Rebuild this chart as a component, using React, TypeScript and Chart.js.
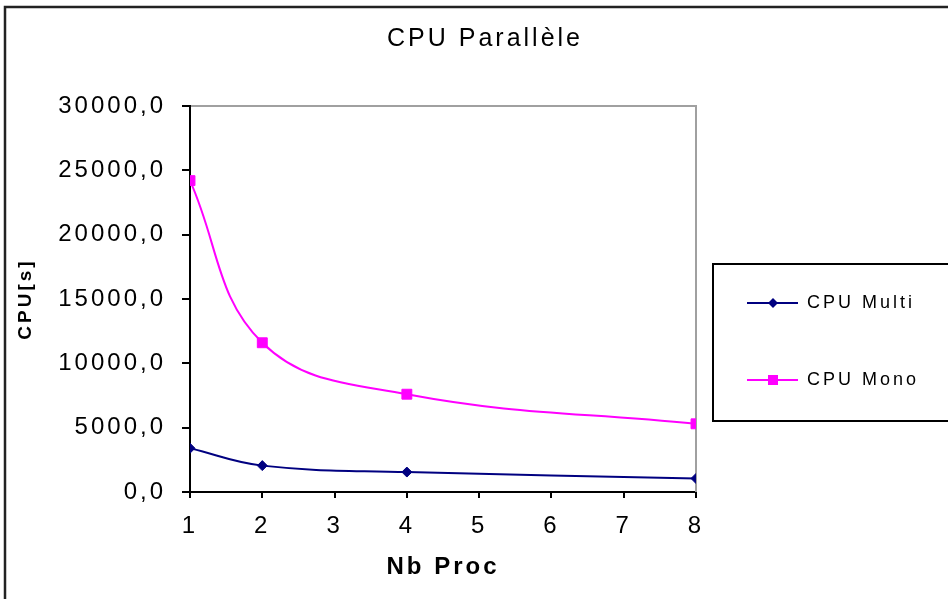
import React, { useEffect, useRef } from 'react';
import { Chart, registerables } from 'chart.js';

Chart.register(...registerables);

// ---- data ----
const nbProc = [1, 2, 4, 8];
const cpuMulti = [3400, 2050, 1550, 1050];
const cpuMono = [24200, 11600, 7600, 5300];
const seriesNames = ['CPU Multi', 'CPU Mono'];
const seriesColors = ['#000080', '#FF00FF'];
const seriesMarkers = ['rectRot', 'rect'];
const xRange = [1, 8];
const yRange = [0, 30000];
const yStep = 5000;
const titleText = 'CPU Parallèle';
const xTitleText = 'Nb Proc';
const yTitleText = 'CPU[s]';

const FONT = '"Liberation Sans", Arial, sans-serif';
const SPACING = '3px';

const spacingPlugin = {
  id: 'spacing',
  afterInit(c: any) { c.ctx.letterSpacing = SPACING; },
  beforeUpdate(c: any) { c.ctx.letterSpacing = SPACING; },
  beforeLayout(c: any) { c.ctx.letterSpacing = SPACING; },
  beforeDraw(c: any) {
    const ctx = c.ctx;
    ctx.letterSpacing = SPACING;
    ctx.save();
    ctx.strokeStyle = '#222';
    ctx.lineWidth = 2.5;
    ctx.strokeRect(5, 7, 1200, 1200);
    ctx.restore();
  },
};

const framePlugin = {
  id: 'frame',
  beforeDatasetsDraw(c: any) {
    const { ctx, chartArea: a } = c;
    ctx.save();
    ctx.strokeStyle = '#a0a0a0';
    ctx.lineWidth = 2;
    ctx.beginPath();
    ctx.moveTo(a.left + 1, a.top);
    ctx.lineTo(a.right, a.top);
    ctx.lineTo(a.right, a.bottom);
    ctx.stroke();
    ctx.restore();
  },
};

const legendPlugin = {
  id: 'customLegend',
  afterDraw(c: any) {
    const ctx = c.ctx;
    ctx.save();
    ctx.letterSpacing = SPACING;
    ctx.strokeStyle = '#000';
    ctx.lineWidth = 2;
    ctx.strokeRect(713, 264, 400, 157);
    c.data.datasets.forEach((ds: any, i: number) => {
      const y = 303 + i * 77;
      ctx.strokeStyle = ds.borderColor;
      ctx.lineWidth = 2;
      ctx.beginPath();
      ctx.moveTo(747, y);
      ctx.lineTo(798, y);
      ctx.stroke();
      ctx.fillStyle = ds.pointBackgroundColor;
      const cx = 773;
      if (ds.pointStyle === 'rect') {
        ctx.fillRect(cx - 5, y - 5, 10, 10);
      } else {
        ctx.beginPath();
        ctx.moveTo(cx - 5, y);
        ctx.lineTo(cx, y - 5);
        ctx.lineTo(cx + 5, y);
        ctx.lineTo(cx, y + 5);
        ctx.closePath();
        ctx.fill();
      }
      ctx.fillStyle = '#000';
      ctx.font = '18px ' + FONT;
      ctx.textAlign = 'left';
      ctx.textBaseline = 'middle';
      ctx.fillText(ds.label, 807, y);
    });
    ctx.restore();
  },
};

export default function App() {
  const ref = useRef<HTMLCanvasElement>(null);

  useEffect(() => {
    document.body.style.margin = '0';
    const canvas = ref.current;
    if (!canvas) return;
    const series = [cpuMulti, cpuMono];
    const chart = new Chart(canvas, {
      type: 'line',
      data: {
        datasets: series.map((vals, i) => ({
          label: seriesNames[i],
          data: nbProc.map((x, j) => ({ x, y: vals[j] })),
          borderColor: seriesColors[i],
          backgroundColor: seriesColors[i],
          pointBackgroundColor: seriesColors[i],
          pointBorderColor: seriesColors[i],
          pointBorderWidth: 1,
          pointStyle: seriesMarkers[i],
          pointRadius: i === 0 ? 5 : 7,
          borderWidth: 2,
          tension: 0.4,
          fill: false,
        })),
      },
      options: {
        animation: false,
        responsive: false,
        devicePixelRatio: 1,
        layout: { padding: { left: 22, right: 0, top: 0, bottom: 0 } },
        font: { family: FONT },
        color: '#000',
        plugins: {
          legend: { display: false },
          tooltip: { enabled: false },
          title: {
            display: true,
            text: titleText,
            color: '#000',
            font: { family: FONT, size: 25, weight: 'normal', lineHeight: 1.2 },
            padding: { top: 24, bottom: 52 },
          },
        },
        scales: {
          x: {
            type: 'linear',
            position: 'bottom',
            min: xRange[0],
            max: xRange[1],
            ticks: {
              stepSize: 1,
              autoSkip: false,
              color: '#000',
              padding: 14,
              font: { family: FONT, size: 24 },
            },
            grid: {
              drawOnChartArea: false,
              drawTicks: true,
              tickLength: 6,
              color: '#000',
              lineWidth: 2,
            },
            border: { display: true, color: '#000', width: 2 },
            title: {
              display: true,
              text: xTitleText,
              color: '#000',
              font: { family: FONT, size: 24, weight: 'bold', lineHeight: 1.2 },
              padding: { top: 0, bottom: 17.6 },
            },
            afterFit: (s: any) => { s.height = 107; },
          },
          y: {
            type: 'linear',
            position: 'left',
            min: yRange[0],
            max: yRange[1],
            ticks: {
              stepSize: yStep,
              color: '#000',
              padding: 16,
              font: { family: FONT, size: 24 },
              callback: (v: any) => Number(v).toFixed(1).replace('.', ','),
            },
            grid: {
              drawOnChartArea: false,
              drawTicks: true,
              tickLength: 8,
              color: '#000',
              lineWidth: 2,
            },
            border: { display: true, color: '#000', width: 2 },
            title: {
              display: true,
              text: yTitleText,
              color: '#000',
              font: { family: FONT, size: 19, weight: 'bold', lineHeight: 0.42 },
              padding: { top: 0, bottom: 0 },
            },
            afterFit: (s: any) => { s.width = 168; },
          },
          yRight: {
            type: 'linear',
            position: 'right',
            min: 0,
            max: 1,
            display: true,
            ticks: { display: false },
            grid: { display: false, drawTicks: false },
            border: { display: false },
            afterFit: (s: any) => { s.width = 252; },
          },
        },
      } as any,
      plugins: [spacingPlugin, framePlugin, legendPlugin],
    });
    return () => chart.destroy();
  }, []);

  return <canvas ref={ref} width={948} height={599} style={{ display: 'block' }} />;
}
